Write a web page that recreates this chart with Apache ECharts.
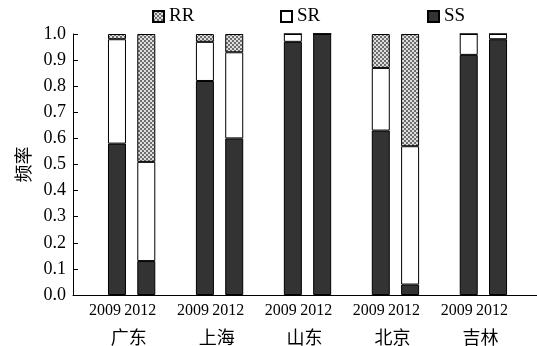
<!DOCTYPE html>
<html><head><meta charset="utf-8">
<script src="https://cdn.jsdelivr.net/npm/echarts@6/dist/echarts.min.js"></script>
<style>html,body{margin:0;padding:0;overflow:hidden;background:#fff;width:537px;height:346px}#c{width:545px;height:346px}</style>
</head><body><div id="c"></div>
<script>
const regions = ['广东', '上海', '山东', '北京', '吉林'];
const years = ['2009', '2012'];
const seriesNames = ['SS', 'SR', 'RR'];
const ssValues = [0.58, 0.13, 0.82, 0.60, 0.97, 1.00, 0.63, 0.04, 0.92, 0.98];
const srValues = [0.40, 0.38, 0.15, 0.33, 0.03, 0.00, 0.24, 0.53, 0.08, 0.02];
const rrValues = [0.02, 0.49, 0.03, 0.07, 0.00, 0.00, 0.13, 0.43, 0.00, 0.00];
const yTickLabels = ['0.0', '0.1', '0.2', '0.3', '0.4', '0.5', '0.6', '0.7', '0.8', '0.9', '1.0'];

// category slots: a leading gap, then [2009, 2012, gap] per region
const slotKeys = ['gap0'];
regions.forEach((r, i) => { years.forEach(y => slotKeys.push(r + '|' + y)); slotKeys.push('gap' + (i + 1)); });
function toSlots(vals) {
  const out = ['-']; let k = 0;
  regions.forEach(() => { years.forEach(() => { out.push(vals[k++]); }); out.push('-'); });
  return out;
}

const pc = document.createElement('canvas'); pc.width = 4; pc.height = 4;
const g = pc.getContext('2d');
g.fillStyle = '#dedede'; g.fillRect(0, 0, 4, 4);
g.fillStyle = '#6e6e6e'; g.fillRect(0, 0, 2, 2); g.fillRect(2, 2, 2, 2);

const serif = '"Liberation Serif", "Times New Roman", serif';
const cjk = '"Noto Sans CJK SC", sans-serif';
const regionPos = regions.map((_, i) => 2 + 3 * i - 0.1);

const chart = echarts.init(document.getElementById('c'), null, {renderer: 'canvas'});
const base = {type: 'bar', stack: 't', barWidth: 18, xAxisIndex: 0, yAxisIndex: 0};
const legendCommon = {top: 7, padding: 0, itemWidth: 11, itemHeight: 11, icon: 'rect',
  textStyle: {fontFamily: serif, fontSize: 19, color: '#000'}};
chart.setOption({
  animation: false,
  grid: {left: 73, top: 34, bottom: 51, right: 3},
  legend: [
    Object.assign({data: [seriesNames[2]], left: 152}, legendCommon),
    Object.assign({data: [seriesNames[1]], left: 280}, legendCommon),
    Object.assign({data: [seriesNames[0]], left: 427}, legendCommon)
  ],
  xAxis: [{
    type: 'category', data: slotKeys,
    axisLine: {lineStyle: {color: '#000', width: 1}},
    axisTick: {inside: true, length: 6, alignWithLabel: true,
      interval: (i) => i > 0 && i % 3 === 0, lineStyle: {color: '#000'}},
    axisLabel: {interval: 0, margin: 8,
      formatter: (v) => v.indexOf('|') < 0 ? '' : (v.split('|')[1] === years[0] ? '{a|' + v.split('|')[1] + '}' : '{b|' + v.split('|')[1] + '}'),
      rich: {
        a: {padding: [0, 24, 0, 0], fontSize: 16, fontFamily: serif, color: '#000'},
        b: {padding: [0, 12, 0, 0], fontSize: 16, fontFamily: serif, color: '#000'}
      }}
  }, {
    type: 'value', min: 0, max: slotKeys.length, position: 'bottom',
    axisLine: {show: false}, axisTick: {show: false}, splitLine: {show: false},
    axisLabel: {customValues: regionPos, margin: 33, fontSize: 18, fontFamily: cjk, color: '#000',
      formatter: (v) => regions[Math.round((v + 0.1 - 2) / 3)] || ''}
  }],
  yAxis: {
    type: 'value', min: 0, max: 1, interval: 0.1,
    axisLine: {show: true, lineStyle: {color: '#000'}},
    axisTick: {show: true, inside: true, length: 5, lineStyle: {color: '#000'}},
    splitLine: {show: false},
    axisLabel: {formatter: (v) => yTickLabels[Math.round(v * 10)], fontSize: 18, fontFamily: serif, color: '#000', margin: 7},
    name: '频率', nameLocation: 'middle', nameRotate: 90, nameGap: 40,
    nameTextStyle: {fontSize: 18, fontFamily: cjk, color: '#000'}
  },
  series: [
    Object.assign({name: seriesNames[0], data: toSlots(ssValues), itemStyle: {color: '#333', borderColor: '#000', borderWidth: 1}}, base),
    Object.assign({name: seriesNames[1], data: toSlots(srValues), itemStyle: {color: '#fff', borderColor: '#000', borderWidth: 1}}, base),
    Object.assign({name: seriesNames[2], data: toSlots(rrValues), itemStyle: {color: {image: pc, repeat: 'repeat'}, borderColor: '#000', borderWidth: 1}}, base)
  ]
});
</script></body></html>
